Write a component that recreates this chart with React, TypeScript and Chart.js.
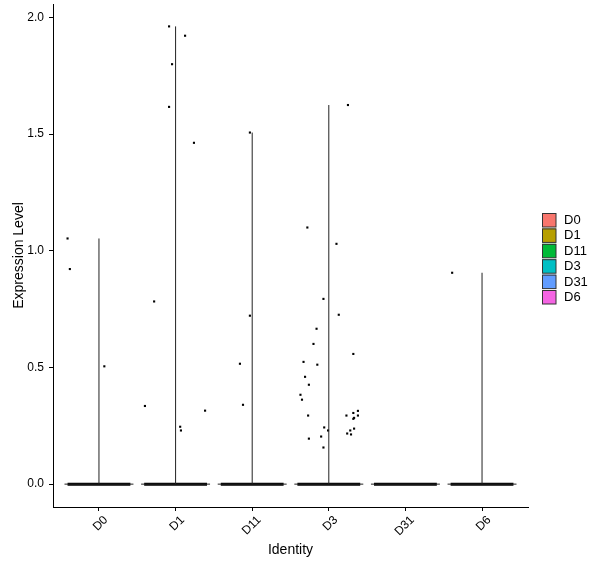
import { useEffect, useRef } from "react";
import { Chart, registerables } from "chart.js";

Chart.register(...registerables);

const identities = ["D0", "D1", "D11", "D3", "D31", "D6"];
const legendColors = ["#F8766D", "#B79F00", "#00BA38", "#00BFC4", "#619CFF", "#F564E3"];
const yTicks = [0, 0.5, 1.0, 1.5, 2.0];

// non-zero expression values per identity, with their horizontal jitter
const exprD0 = [1.053, 0.922, 0.505];
const jitterD0 = [-0.41, -0.38, 0.07];

const exprD1 = [1.962, 1.922, 1.8, 1.617, 1.463, 0.783, 0.335, 0.246, 0.23, 0.315];
const jitterD1 = [-0.085, 0.124, -0.046, -0.085, 0.24, -0.28, -0.4, 0.06, 0.07, 0.385];

const exprD11 = [1.507, 0.722, 0.516, 0.34];
const jitterD11 = [-0.03, -0.03, -0.16, -0.12];

const exprD3 = [
  1.625, 1.1, 1.03, 0.794, 0.726, 0.666, 0.601, 0.558, 0.524, 0.512,
  0.46, 0.426, 0.383, 0.362, 0.314, 0.294, 0.294, 0.305, 0.294, 0.284,
  0.28, 0.243, 0.23, 0.238, 0.23, 0.217, 0.213, 0.195, 0.204, 0.157,
];
const jitterD3 = [
  0.25, -0.28, 0.1, -0.07, 0.13, -0.16, -0.2, 0.32, -0.33, -0.15,
  -0.31, -0.26, -0.37, -0.35, 0.38, -0.27, 0.23, 0.32, 0.38, 0.33,
  0.32, -0.06, -0.01, 0.33, 0.28, 0.24, 0.29, -0.26, -0.1, -0.07,
];

const exprD31: number[] = [];
const jitterD31: number[] = [];

const exprD6 = [0.906];
const jitterD6 = [-0.39];

const FONT = "'Liberation Sans', Arial, sans-serif";

export default function App() {
  const canvasRef = useRef<HTMLCanvasElement | null>(null);

  useEffect(() => {
    if (!canvasRef.current) return;

    const groups = [
      { values: exprD0, jitter: jitterD0 },
      { values: exprD1, jitter: jitterD1 },
      { values: exprD11, jitter: jitterD11 },
      { values: exprD3, jitter: jitterD3 },
      { values: exprD31, jitter: jitterD31 },
      { values: exprD6, jitter: jitterD6 },
    ];

    // collapsed violins: a thin line at zero and a stem up to the max value
    const violin: any[] = [];
    const zeroBand: any[] = [];
    const points: any[] = [];
    groups.forEach((g, i) => {
      const x = i + 1;
      violin.push({ x: x - 0.45, y: 0 }, { x: x + 0.45, y: 0 }, { x, y: null });
      if (g.values.length) {
        violin.push({ x, y: 0 }, { x, y: Math.max(...g.values) }, { x, y: null });
      }
      zeroBand.push({ x: x - 0.41, y: 0 }, { x: x + 0.41, y: 0 }, { x, y: null });
      g.values.forEach((v, k) => points.push({ x: x + g.jitter[k], y: v }));
    });

    const legendPlugin = {
      id: "identLegend",
      afterDraw(chart: any) {
        const ctx = chart.ctx;
        ctx.save();
        ctx.font = `13px ${FONT}`;
        ctx.textBaseline = "middle";
        identities.forEach((name, i) => {
          const top = 213 + i * 15.4;
          ctx.fillStyle = legendColors[i];
          ctx.fillRect(542, top, 14, 14);
          ctx.strokeStyle = "#333";
          ctx.lineWidth = 1;
          ctx.strokeRect(542.5, top + 0.5, 13.5, 13.5);
          ctx.fillStyle = "#000";
          ctx.fillText(name, 564, top + 7.5);
        });
        ctx.restore();
      },
    };

    const chart = new Chart(canvasRef.current, {
      type: "scatter",
      data: {
        datasets: [
          {
            type: "line",
            data: violin,
            borderColor: "#222",
            borderWidth: 1,
            pointRadius: 0,
            spanGaps: false,
          },
          {
            type: "line",
            data: zeroBand,
            borderColor: "#000",
            borderWidth: 3,
            pointRadius: 0,
            spanGaps: false,
          },
          {
            data: points,
            backgroundColor: "#000",
            borderWidth: 0,
            pointStyle: "rect",
            pointRadius: 1.5,
          },
        ],
      },
      options: {
        animation: false,
        responsive: true,
        maintainAspectRatio: false,
        layout: { padding: { top: 3, right: 72, left: 0, bottom: 0 } },
        plugins: {
          legend: { display: false },
          tooltip: { enabled: false },
        },
        scales: {
          x: {
            type: "linear",
            min: 0.4,
            max: 6.6,
            afterBuildTicks: (scale: any) => {
              scale.ticks = identities.map((_, i) => ({ value: i + 1 }));
            },
            afterFit: (scale: any) => {
              scale.height = 61;
            },
            grid: { drawOnChartArea: false, drawTicks: true, tickLength: 4, color: "#000" },
            border: { display: true, color: "#000", width: 1 },
            ticks: {
              color: "#000",
              font: { family: FONT, size: 12 },
              minRotation: 45,
              maxRotation: 45,
              labelOffset: 7,
              padding: 2,
              callback: (v: any) => identities[Number(v) - 1] ?? "",
            },
            title: {
              display: true,
              text: "Identity",
              color: "#000",
              font: { family: FONT, size: 14 },
              padding: { top: 0, bottom: 9 },
            },
          },
          y: {
            type: "linear",
            min: -0.098,
            max: 2.058,
            afterBuildTicks: (scale: any) => {
              scale.ticks = yTicks.map((v) => ({ value: v }));
            },
            afterFit: (scale: any) => {
              scale.width = 53;
              scale.paddingTop = 0;
              scale.paddingBottom = 0;
            },
            grid: { drawOnChartArea: false, drawTicks: true, tickLength: 4, color: "#000" },
            border: { display: true, color: "#000", width: 1 },
            ticks: {
              color: "#000",
              font: { family: FONT, size: 12, lineHeight: 0.1 },
              padding: 5,
              callback: (v: any) => Number(v).toFixed(1),
            },
            title: {
              display: true,
              text: "Expression Level",
              color: "#000",
              font: { family: FONT, size: 14 },
              padding: { top: 11, bottom: 0 },
            },
          },
        },
      },
      plugins: [legendPlugin],
    });

    return () => {
      chart.destroy();
    };
  }, []);

  return (
    <div style={{ position: "fixed", left: 0, top: 0, width: 600, height: 568, background: "#fff" }}>
      <canvas ref={canvasRef} />
    </div>
  );
}
